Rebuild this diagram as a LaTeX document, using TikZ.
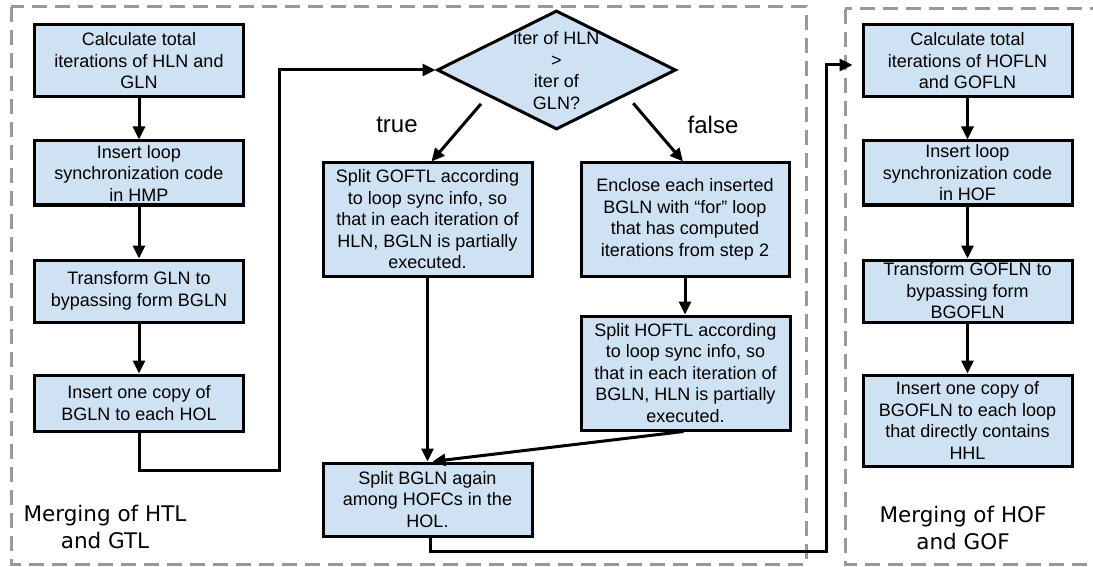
\documentclass[tikz,border=0pt]{standalone}
\usepackage{fontspec}
\setmainfont{Liberation Sans}
\newfontfamily\dejavu{DejaVu Sans}
\usetikzlibrary{arrows.meta,shapes.geometric,calc}
\definecolor{boxblue}{HTML}{CFE2F3}
\definecolor{dashgray}{HTML}{999999}
\begin{document}
\begin{tikzpicture}[x=1pt,y=-1pt,
  box/.style={draw=black, line width=3pt, fill=boxblue, inner sep=0pt, align=center,
    font=\fontsize{18}{21.5}\selectfont, minimum width=209pt},
  decision/.style={draw=black, line width=3pt, fill=boxblue, diamond, inner sep=0pt,
    minimum width=239pt, minimum height=119pt},
  dtext/.style={align=center, font=\fontsize{18}{21.5}\selectfont, inner sep=0pt},
  flow/.style={draw=black, line width=3pt, -{Triangle[length=13pt,width=12pt]}},
  container/.style={draw=dashgray, line width=3pt, dash pattern=on 15pt off 8pt},
  grouplabel/.style={align=center, font=\dejavu\fontsize{21.5}{27}\selectfont, inner sep=0pt},
  branch/.style={font=\fontsize{24}{28}\selectfont, inner sep=0pt}
]
\clip (0,0) rectangle (1093,567);
\fill[white] (0,0) rectangle (1093,567);

% containers
\draw[container] (11,7) rectangle (806,564);
\draw[container] (845,9) rectangle (1110,564);

% left column
\node[box, minimum height=72pt] (L1) at (139,61) {Calculate total\\iterations of HLN and\\GLN};
\node[box, minimum height=64pt] (L2) at (139,173) {Insert loop\\synchronization code\\in HMP};
\node[box, minimum height=62pt] (L3) at (139,291) {Transform GLN to\\bypassing form BGLN};
\node[box, minimum height=56pt] (L4) at (139,403) {Insert one copy of\\BGLN to each HOL};

% decision
\node[decision] (D) at (556.5,70) {};
\node[dtext] (Dt) at (556.5,70.5) {iter of HLN\\>\\iter of\\GLN?};

% middle
\node[box, minimum height=113pt] (S1) at (427.5,219.5) {Split GOFTL according\\to loop sync info, so\\that in each iteration of\\HLN, BGLN is partially\\executed.};
\node[box, minimum height=113pt, minimum width=208pt] (E) at (685,219.5) {Enclose each inserted\\BGLN with \textquotedblleft for\textquotedblright\ loop\\that has computed\\iterations from step 2};
\node[box, minimum height=114pt] (H) at (685.5,373) {Split HOFTL according\\to loop sync info, so\\that in each iteration of\\BGLN, HLN is partially\\executed.};
\node[box, minimum height=73pt] (B) at (427.5,499.5) {Split BGLN again\\among HOFCs in the\\HOL.};

% right column
\node[box, minimum height=72pt] (R1) at (967.5,61) {Calculate total\\iterations of HOFLN\\and GOFLN};
\node[box, minimum height=64pt] (R2) at (967.5,173) {Insert loop\\synchronization code\\in HOF};
\node[box, minimum height=62pt] (R3) at (967.5,291) {Transform GOFLN to\\bypassing form\\BGOFLN};
\node[box, minimum height=91pt] (R4) at (967.5,420.5) {Insert one copy of\\BGOFLN to each loop\\that directly contains\\HHL};

% labels
\node[branch] (tl) at (397,125) {true};
\node[branch] (fl) at (713,125) {false};
\node[grouplabel] (g1) at (105,527) {Merging of HTL\\and GTL};
\node[grouplabel] (g2) at (963,528) {Merging of HOF\\and GOF};

% helper coordinates
\coordinate (c1) at (279,470);
\coordinate (c2) at (826,551);

% connectors
\draw[flow] (L1) -- (L2);
\draw[flow] (L2) -- (L3);
\draw[flow] (L3) -- (L4);
\draw[flow] (L4.south) |- (c1) |- (D.west);
\draw[flow, shorten <=10pt] ($(D.west)!0.43!(D.south)$) -- ([xshift=4pt]S1.north);
\draw[flow, shorten <=10pt] ($(D.east)!0.42!(D.south)$) -- ([xshift=-2pt]E.north);
\draw[flow] (S1) -- (S1 |- B.north);
\draw[flow] (E) -- (E |- H.north);
\draw[flow] ([xshift=-2pt]H.south) -- ([xshift=5pt]B.north);
\draw[flow, shorten >=9pt] ([xshift=3pt]B.south) |- (c2) |- ([yshift=-4pt]R1.west);
\draw[flow] (R1) -- (R2);
\draw[flow] (R2) -- (R3);
\draw[flow] (R3) -- (R4);
\end{tikzpicture}
\end{document}
